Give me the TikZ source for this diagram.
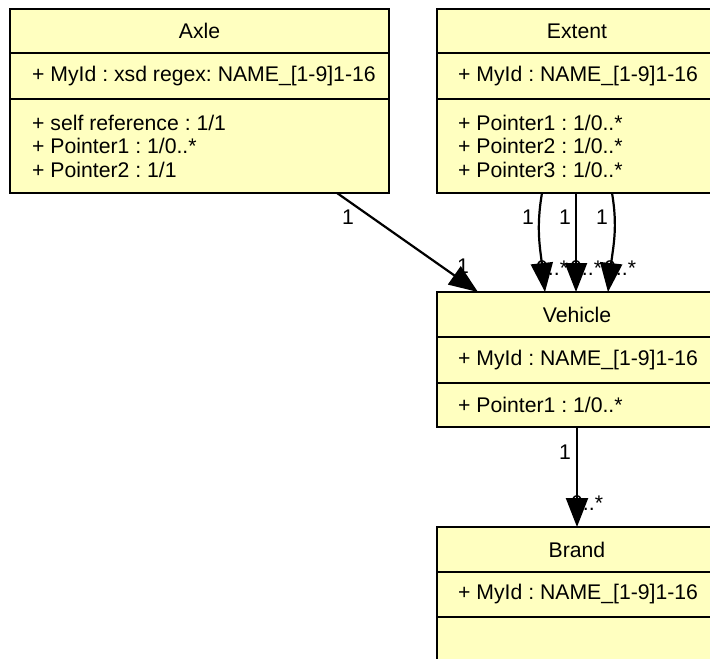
\documentclass[tikz,border=0pt]{standalone}
\usepackage{fontspec}
\setmainfont{Liberation Sans}
\usetikzlibrary{positioning,arrows.meta}
\definecolor{classfill}{RGB}{255,255,192}
\newcommand{\umlfont}{\fontsize{21.2}{23.5}\selectfont\frenchspacing}

\begin{document}
\begin{tikzpicture}[x=1pt, y=1pt,
    classpart/.style={draw, line width=2.2pt, fill=classfill, inner sep=0pt, outer sep=0pt, font=\umlfont},
    classtext/.style={inner sep=0pt, align=left, font=\umlfont},
    mult/.style={inner sep=0pt, font=\umlfont},
    assoc/.style={line width=2.2pt, -{Triangle[length=29pt, width=22pt]}}]
    \useasboundingbox (0,0) rectangle (710,-659);
    \fill[white] (0,0) rectangle (710,-659);
    \clip (0,0) rectangle (710,-659);

    % Axle
    \node[classpart, minimum width=379pt, minimum height=44pt, anchor=north west] (axlehead) at (10,-9) {Axle};
    \node[classpart, minimum width=379pt, minimum height=46pt, below=0pt of axlehead] (axleattr) {};
    \node[classpart, minimum width=379pt, minimum height=94pt, below=0pt of axleattr] (axleops) {};
    \node[classtext, right=22pt of axleattr.west] (axleid) {+ MyId : xsd regex: NAME\_[1-9]1-16};
    \node[classtext, right=22pt of axleops.west] (axleptr) {+ self reference : 1/1\\+ Pointer1 : 1/0..*\\+ Pointer2 : 1/1};

    % Extent
    \node[classpart, minimum width=280pt, minimum height=44pt, anchor=north west] (extenthead) at (437,-9) {Extent};
    \node[classpart, minimum width=280pt, minimum height=46pt, below=0pt of extenthead] (extentattr) {};
    \node[classpart, minimum width=280pt, minimum height=94pt, below=0pt of extentattr] (extentops) {};
    \node[classtext, right=21pt of extentattr.west] (extentid) {+ MyId : NAME\_[1-9]1-16};
    \node[classtext, right=21pt of extentops.west] (extentptr) {+ Pointer1 : 1/0..*\\+ Pointer2 : 1/0..*\\+ Pointer3 : 1/0..*};

    % Vehicle
    \node[classpart, minimum width=280pt, minimum height=45pt, below=99pt of extentops] (vehiclehead) {Vehicle};
    \node[classpart, minimum width=280pt, minimum height=46pt, below=0pt of vehiclehead] (vehicleattr) {};
    \node[classpart, minimum width=280pt, minimum height=44pt, below=0pt of vehicleattr] (vehicleops) {};
    \node[classtext, right=21pt of vehicleattr.west] (vehicleid) {+ MyId : NAME\_[1-9]1-16};
    \node[classtext, right=21pt of vehicleops.west] (vehicleptr) {+ Pointer1 : 1/0..*};

    % Brand
    \node[classpart, minimum width=280pt, minimum height=45pt, below=100pt of vehicleops] (brandhead) {Brand};
    \node[classpart, minimum width=280pt, minimum height=45pt, below=0pt of brandhead] (brandattr) {};
    \node[classpart, minimum width=280pt, minimum height=75pt, below=0pt of brandattr] (brandops) {};
    \node[classtext, right=21pt of brandattr.west] (brandid) {+ MyId : NAME\_[1-9]1-16};

    % multiplicities
    \node[mult] (axletail) at (348,-217) {1};
    \node[mult] (axlehd) at (463,-266) {1};
    \node[mult] (ptrtaila) at (528,-217) {1};
    \node[mult] (ptrtailb) at (565,-217) {1};
    \node[mult] (ptrtailc) at (602,-217) {1};
    \node[mult, anchor=base west] (ptrhda) at (536,-275) {0..*};
    \node[mult, anchor=base west] (ptrhdb) at (570,-275) {0..*};
    \node[mult, anchor=base west] (ptrhdc) at (604,-275) {0..*};
    \node[mult] (brandtail) at (565,-452) {1};
    \node[mult, anchor=base west] (brandhd) at (571,-510) {0..*};

    % associations
    \draw[assoc] ([xshift=137.5pt]axleops.south) -- ([xshift=-99pt]vehiclehead.north);
    \draw[assoc] ([xshift=-35pt]extentops.south) .. controls +(-6,-35) and +(-5,45) .. ([xshift=-32pt]vehiclehead.north);
    \draw[assoc] ([xshift=-1pt]extentops.south) -- ([xshift=-1pt]vehiclehead.north);
    \draw[assoc] ([xshift=35pt]extentops.south) .. controls +(6,-35) and +(5,45) .. ([xshift=31pt]vehiclehead.north);
    \draw[assoc] (vehicleops.south) -- (brandhead.north);
\end{tikzpicture}
\end{document}
